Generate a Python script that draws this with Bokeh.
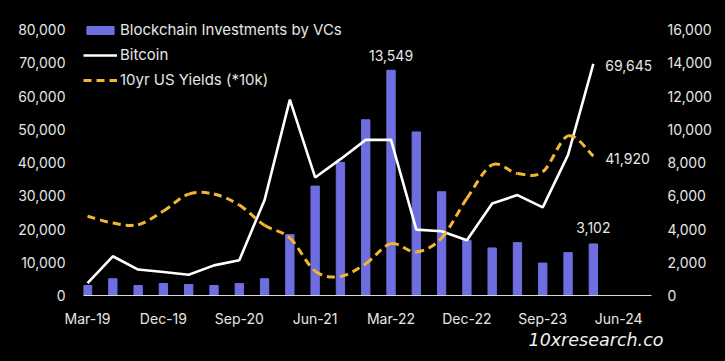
from bokeh.plotting import figure
from bokeh.models import (Range1d, LinearAxis, FixedTicker, NumeralTickFormatter,
                          Legend, LegendItem, Label, Title)
from bokeh.embed import file_html
from bokeh.resources import INLINE

quarters = ["Mar-19", "Jun-19", "Sep-19", "Dec-19", "Mar-20", "Jun-20", "Sep-20", "Dec-20",
            "Mar-21", "Jun-21", "Sep-21", "Dec-21", "Mar-22", "Jun-22", "Sep-22", "Dec-22",
            "Mar-23", "Jun-23", "Sep-23", "Dec-23", "Mar-24", "Jun-24"]
vc_investments = [600, 1010, 600, 720, 660, 600, 720, 1010, 3660, 6580, 8010, 10570,
                  13549, 9840, 6240, 3320, 2860, 3180, 1950, 2580, 3102]
bitcoin = [3700, 11800, 7800, 7050, 6250, 9060, 10600, 28700, 58900, 35500, 41000, 46800,
           46800, 19800, 19300, 16600, 27700, 30200, 26500, 42300, 69645]
yields_10k = [23850, 21800, 21300, 25400, 30500, 30500, 27200, 21100, 17300, 7340, 5740, 9560,
              15600, 13100, 17300, 29200, 39300, 36700, 37200, 48000, 41920]
left_ticks = [0, 10000, 20000, 30000, 40000, 50000, 60000, 70000, 80000]
right_ticks = [0, 2000, 4000, 6000, 8000, 10000, 12000, 14000, 16000]

FONT = "Inter"
TXT = "#e6e6e6"
BAR = "#6e6ee0"
YEL = "#f2b630"

n = len(vc_investments)
xs = list(range(n))

# frame spans y 19..295 px; the top tick (80,000 / 16,000) sits 10 px below the frame top
TOP, BOT, TICKTOP = 19, 295, 29
scale = (BOT - TOP) / (BOT - TICKTOP)

p = figure(width=725, height=361, output_backend="svg", toolbar_location=None,
           x_range=Range1d(-0.16, 22.3), y_range=Range1d(0, left_ticks[-1] * scale),
           min_border_left=83, min_border_right=74, min_border_top=TOP,
           min_border_bottom=361 - BOT)
p.background_fill_color = "black"
p.border_fill_color = "black"
p.outline_line_color = None
p.xgrid.visible = False
p.ygrid.visible = False
p.extra_y_ranges = {"right": Range1d(0, right_ticks[-1] * scale)}

bars = p.vbar(x=xs, top=vc_investments, width=0.33, color=BAR, y_range_name="right")
btc = p.line(xs, bitcoin, line_color="white", line_width=2.6)

# smoothed (Excel-style) yield curve drawn as bezier segments between data points
x0s, y0s, x1s, y1s, cx0s, cy0s, cx1s, cy1s = [], [], [], [], [], [], [], []
for i in range(n - 1):
    pa = (xs[max(i - 1, 0)], yields_10k[max(i - 1, 0)])
    pb = (xs[i], yields_10k[i])
    pc = (xs[i + 1], yields_10k[i + 1])
    pd = (xs[min(i + 2, n - 1)], yields_10k[min(i + 2, n - 1)])
    x0s.append(pb[0]); y0s.append(pb[1]); x1s.append(pc[0]); y1s.append(pc[1])
    cx0s.append(pb[0] + (pc[0] - pa[0]) / 6); cy0s.append(pb[1] + (pc[1] - pa[1]) / 6)
    cx1s.append(pc[0] - (pd[0] - pb[0]) / 6); cy1s.append(pc[1] - (pd[1] - pb[1]) / 6)
yld = p.bezier(x0=x0s, y0=y0s, x1=x1s, y1=y1s, cx0=cx0s, cy0=cy0s, cx1=cx1s, cy1=cy1s,
               line_color=YEL, line_width=3, line_dash="8 5")

# axes
p.xaxis.ticker = FixedTicker(ticks=list(range(0, len(quarters), 3)))
p.xaxis.major_label_overrides = {i: quarters[i] for i in range(0, len(quarters), 3)}
p.xaxis.axis_line_color = "#d9d9d9"
p.xaxis.axis_line_width = 1
p.xaxis.major_label_standoff = 14

p.yaxis.ticker = FixedTicker(ticks=left_ticks)
p.yaxis.formatter = NumeralTickFormatter(format="0,0")
p.yaxis.axis_line_color = None
p.yaxis.major_label_standoff = 18

raxis = LinearAxis(y_range_name="right", ticker=FixedTicker(ticks=right_ticks),
                   formatter=NumeralTickFormatter(format="0,0"))
raxis.axis_line_color = None
raxis.major_label_standoff = 16
p.add_layout(raxis, "right")

for ax in [p.xaxis[0], p.yaxis[0], raxis]:
    ax.major_tick_line_color = None
    ax.minor_tick_line_color = None
    ax.major_tick_in = 0
    ax.major_tick_out = 0
    ax.minor_tick_in = 0
    ax.minor_tick_out = 0
    ax.major_label_text_color = TXT
    ax.major_label_text_font = FONT
    ax.major_label_text_font_size = "14px"

# data labels
imax = vc_investments.index(max(vc_investments))
for i, v, yr, xo, yo, al in [
    (imax, vc_investments[imax], "right", 0, 15, "center"),
    (n - 1, vc_investments[-1], "right", 0, 16, "center"),
    (n - 1, bitcoin[-1], "default", 12, -2, "left"),
    (n - 1, yields_10k[-1], "default", 12, -2, "left"),
]:
    p.add_layout(Label(x=xs[i], y=v, y_range_name=yr, text=f"{v:,}", x_offset=xo, y_offset=yo,
                       text_align=al, text_baseline="middle", text_color=TXT,
                       text_font=FONT, text_font_size="14px"))

p.add_layout(Title(text="10xresearch.co", align="left", offset=445, standoff=0,
                   vertical_align="top",
                   text_color="#f0f0f0", text_font="DejaVu Sans", text_font_style="italic",
                   text_font_size="17.5px"), "below")

legend = Legend(items=[LegendItem(label="Blockchain Investments by VCs", renderers=[bars]),
                       LegendItem(label="Bitcoin", renderers=[btc]),
                       LegendItem(label="10yr US Yields (*10k)", renderers=[yld])],
                location=(0, 206), background_fill_alpha=0, border_line_color=None,
                padding=0, margin=0, spacing=6, glyph_width=34, glyph_height=10,
                label_height=10, label_standoff=3, label_text_color=TXT,
                label_text_font=FONT, label_text_font_size="15px")
p.add_layout(legend)

html = file_html(p, INLINE)
html = html.replace("<head>", "<head><style>html,body{background:#000;}</style>", 1)
open("out.html", "w").write(html)
